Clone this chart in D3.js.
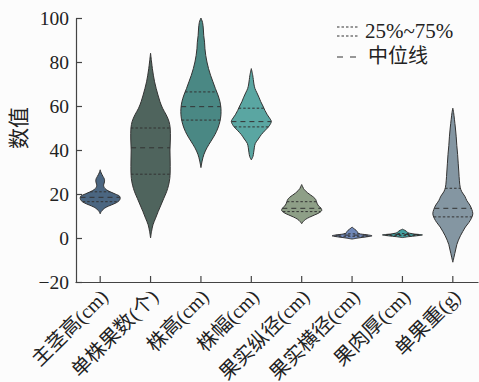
<!DOCTYPE html>
<html>
<head>
<meta charset="utf-8">
<script src="https://cdn.jsdelivr.net/npm/d3@7"></script>
<style>
  body { margin: 0; background: #fcfcfc; }
  svg { display: block; }
  text { font-family: "Liberation Serif", "Noto Sans CJK SC", serif; fill: #222; }
</style>
</head>
<body>
<svg id="chart"></svg>
<script>
// categories on the x axis
const categories = ['主茎高(cm)', '单株果数(个)', '株高(cm)', '株幅(cm)', '果实纵径(cm)', '果实横径(cm)', '果肉厚(cm)', '单果重(g)'];

// violin outlines: [value, relative density]
const profileStem = [[11,0],[12,0.05],[13,0.15],[14,0.3],[15,0.55],[16,0.8],[17,0.95],[18,1],[19,0.97],[20,0.75],[21,0.5],[22,0.3],[23,0.2],[24,0.17],[25,0.2],[26,0.22],[27,0.2],[28,0.14],[29,0.08],[30,0.03],[31,0]];
const profileFruitCount = [[0,0],[3,0.05],[6,0.12],[9,0.25],[12,0.38],[15,0.52],[18,0.66],[21,0.8],[24,0.9],[27,0.96],[30,0.98],[35,0.98],[40,0.97],[45,0.99],[50,0.98],[53,0.92],[56,0.78],[59,0.6],[62,0.47],[65,0.37],[68,0.28],[71,0.2],[74,0.14],[77,0.09],[80,0.05],[84,0]];
const profileHeight = [[32,0],[35,0.06],[38,0.15],[41,0.3],[44,0.5],[47,0.7],[50,0.85],[53,0.95],[56,1],[59,1],[62,0.95],[65,0.85],[68,0.72],[71,0.6],[74,0.48],[77,0.38],[80,0.3],[83,0.24],[86,0.2],[89,0.18],[92,0.14],[95,0.12],[98,0.08],[100,0]];
const profileSpread = [[35.5,0],[37,0.08],[39,0.12],[41,0.15],[43,0.2],[45,0.35],[47,0.5],[49,0.7],[51,0.9],[53,1],[54,0.95],[56,0.8],[58,0.68],[60,0.58],[62,0.47],[64,0.38],[66,0.28],[68,0.18],[70,0.13],[72,0.1],[74,0.07],[77,0]];
const profileFruitLength = [[6.5,0],[7.5,0.08],[8.5,0.2],[9.5,0.4],[10.5,0.65],[11.5,0.88],[12.5,1],[13.5,0.97],[14.5,0.85],[15.5,0.78],[16.5,0.74],[17.5,0.7],[18.5,0.6],[19.5,0.45],[20.5,0.3],[21.5,0.18],[22.5,0.09],[23.5,0.04],[24.3,0]];
const profileFruitWidth = [[-0.5,0],[0,0.3],[0.5,0.7],[1,1],[1.5,0.7],[2,0.35],[2.5,0.28],[3,0.25],[3.5,0.2],[4,0.13],[4.5,0.06],[5,0]];
const profileFlesh = [[0.2,0],[0.6,0.3],[1,0.7],[1.4,1],[1.8,0.6],[2.2,0.35],[2.6,0.25],[3,0.2],[3.5,0.12],[4,0]];
const profileWeight = [[-11,0],[-9,0.05],[-7,0.1],[-5,0.15],[-3,0.2],[-1,0.28],[1,0.38],[3,0.5],[5,0.63],[7,0.8],[9,0.93],[11,1],[13,0.95],[15,0.85],[17,0.7],[19,0.6],[21,0.45],[23,0.37],[26,0.33],[30,0.3],[34,0.27],[38,0.24],[42,0.2],[46,0.17],[50,0.13],[54,0.08],[57,0.04],[59,0]];
const profiles = [profileStem, profileFruitCount, profileHeight, profileSpread, profileFruitLength, profileFruitWidth, profileFlesh, profileWeight];

// quartiles
const q1Values = [16.5, 29, 53.6, 50.5, 12, 0.8, 1.2, 9.6];
const medianValues = [18.5, 41, 59.7, 52.9, 13.5, 1.3, 1.6, 13.5];
const q3Values = [21, 50, 66.4, 59, 16.5, 1.9, 2.0, 22.6];

// y axis ticks
const yTicks = [-20, 0, 20, 40, 60, 80, 100];

const fillColours = ['#4b6681', '#4f645d', '#4a8884', '#5aa6a2', '#8e9f87', '#7088b8', '#43a0a0', '#8496a2'];

const width = 479, height = 382;
const margin = { top: 18, right: 1, bottom: 100, left: 76 };

const svg = d3.select('#chart')
    .attr('width', width)
    .attr('height', height);

svg.append('rect')
    .attr('width', width)
    .attr('height', height)
    .attr('fill', '#fcfcfc');

const xScale = d3.scaleBand()
    .domain(categories)
    .range([margin.left - 1, width - margin.right]);

const yScale = d3.scaleLinear()
    .domain([-20, 100])
    .range([height - margin.bottom, margin.top]);

// density 1 -> 20px half width
const wScale = d3.scaleLinear().domain([0, 1]).range([0, 20]);

const colourScale = d3.scaleOrdinal().domain(categories).range(fillColours);

// half width of a violin at a given value
function widthAt(profile, v) {
    for (let i = 1; i < profile.length; i++) {
        if (v <= profile[i][0]) {
            const [v0, w0] = profile[i - 1];
            const [v1, w1] = profile[i];
            const t = (v - v0) / (v1 - v0);
            return w0 + t * (w1 - w0);
        }
    }
    return 0;
}

const violins = svg.append('g').attr('class', 'violins');

categories.forEach((cat, i) => {
    const cx = xScale(cat) + xScale.bandwidth() / 2;
    const profile = profiles[i];

    const area = d3.area()
        .curve(d3.curveCatmullRom)
        .y(d => yScale(d[0]))
        .x0(d => cx - wScale(d[1]))
        .x1(d => cx + wScale(d[1]));

    const g = violins.append('g');

    g.append('path')
        .datum(profile)
        .attr('d', area)
        .attr('fill', colourScale(cat))
        .attr('stroke', '#333')
        .attr('stroke-width', 1);

    const lines = [
        { v: q1Values[i], dash: '2.5,2' },
        { v: medianValues[i], dash: '5,4' },
        { v: q3Values[i], dash: '2.5,2' }
    ];

    lines.forEach(l => {
        const hw = wScale(widthAt(profile, l.v));
        g.append('line')
            .attr('x1', cx - hw)
            .attr('x2', cx + hw)
            .attr('y1', yScale(l.v))
            .attr('y2', yScale(l.v))
            .attr('stroke', '#333')
            .attr('stroke-width', 1)
            .attr('stroke-dasharray', l.dash);
    });
});

// axes
const yAxis = d3.axisLeft(yScale)
    .tickValues(yTicks)
    .tickSizeInner(-6)
    .tickSizeOuter(0)
    .tickPadding(7);

const xAxis = d3.axisBottom(xScale)
    .tickSizeInner(-6)
    .tickSizeOuter(0)
    .tickFormat('');

const yAxisG = svg.append('g')
    .attr('class', 'axis y-axis')
    .attr('transform', `translate(${margin.left},0)`)
    .call(yAxis);

const xAxisG = svg.append('g')
    .attr('class', 'axis x-axis')
    .attr('transform', `translate(0,${height - margin.bottom})`)
    .call(xAxis);

svg.selectAll('.axis path, .axis line')
    .attr('stroke', '#444')
    .attr('stroke-width', 1.2);

yAxisG.selectAll('text')
    .attr('font-size', 19.5)
    .attr('font-family', '"Liberation Serif", serif')
    .attr('fill', '#222');

// rotated category labels
svg.append('g')
    .selectAll('text')
    .data(categories)
    .join('text')
    .attr('text-anchor', 'end')
    .attr('font-size', 20)
    .attr('transform', d => {
        const x = xScale(d) + xScale.bandwidth() / 2 + 9;
        const y = height - margin.bottom + 16;
        return `translate(${x},${y}) rotate(-45)`;
    })
    .text(d => d);

// y axis title
svg.append('text')
    .attr('text-anchor', 'middle')
    .attr('font-size', 21)
    .attr('transform', 'translate(26,128) rotate(-90)')
    .text('数值');

// legend
const legend = svg.append('g').attr('class', 'legend');

[27, 36].forEach(y => {
    legend.append('line')
        .attr('x1', 337).attr('x2', 358)
        .attr('y1', y).attr('y2', y)
        .attr('stroke', '#333')
        .attr('stroke-width', 1)
        .attr('stroke-dasharray', '2.5,2');
});

legend.append('line')
    .attr('x1', 337).attr('x2', 357)
    .attr('y1', 57).attr('y2', 57)
    .attr('stroke', '#333')
    .attr('stroke-width', 1)
    .attr('stroke-dasharray', '6,7');

legend.append('text')
    .attr('x', 365)
    .attr('y', 38)
    .attr('font-size', 21)
    .text('25%~75%');

legend.append('text')
    .attr('x', 368)
    .attr('y', 63)
    .attr('font-size', 20)
    .text('中位线');
</script>
</body>
</html>
